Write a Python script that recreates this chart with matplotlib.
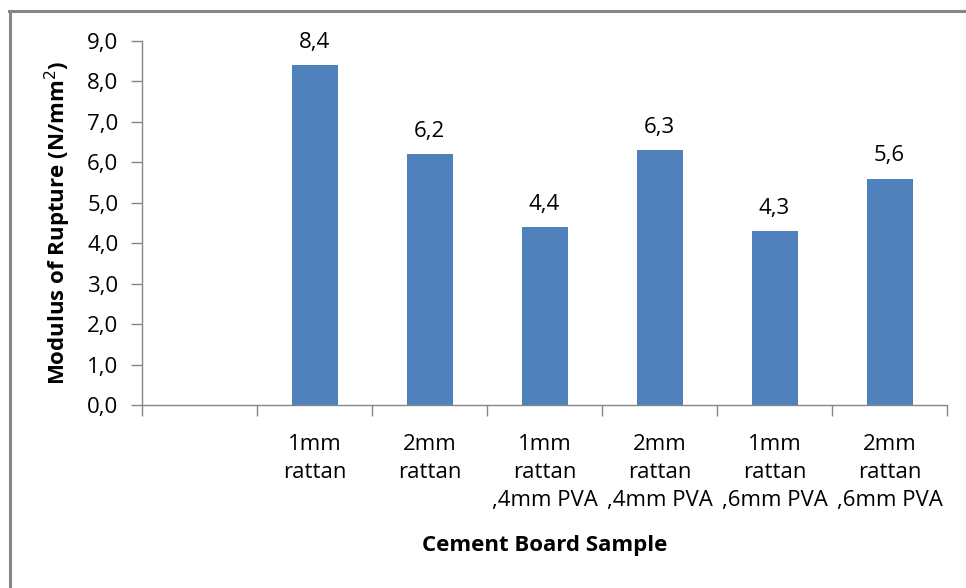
import matplotlib.pyplot as plt
from matplotlib.lines import Line2D
from matplotlib.ticker import FixedLocator, NullFormatter

samples = ["", "1mm\nrattan", "2mm\nrattan", "1mm\nrattan\n,4mm PVA",
           "2mm\nrattan\n,4mm PVA", "1mm\nrattan\n,6mm PVA", "2mm\nrattan\n,6mm PVA"]
mor = [None, 8.4, 6.2, 4.4, 6.3, 4.3, 5.6]
y_ticks = [0, 1, 2, 3, 4, 5, 6, 7, 8, 9]

plt.rcParams["font.family"] = ["Open Sans", "DejaVu Sans"]
axis_grey = "#868686"
bar_blue = "#4F81BD"
fs = 16


def comma(v):
    return f"{v:.1f}".replace(".", ",")


fig = plt.figure(figsize=(9.66, 5.88), dpi=100)
ax = fig.add_axes([142 / 966, 1 - 405 / 588, (947 - 142) / 966, (405 - 41) / 588])

xs = list(range(len(samples)))
for x, v in zip(xs, mor):
    if v is None:
        continue
    ax.bar(x, v, width=0.4, color=bar_blue, zorder=2)
    ax.annotate(comma(v), (x, v), xytext=(0, 9), textcoords="offset points",
                ha="center", va="bottom", fontsize=fs, color="black")

ax.set_xlim(-0.5, len(samples) - 0.5)
ax.set_ylim(0, 9)
ax.set_yticks(y_ticks)
ax.set_yticklabels([comma(t) for t in y_ticks], fontsize=fs)

ax.set_xticks(xs)
ax.set_xticklabels(samples, fontsize=fs, linespacing=1.43, va="top")
ax.tick_params(axis="x", which="major", length=0, pad=21)
ax.xaxis.set_minor_locator(FixedLocator([i - 0.5 for i in range(len(samples) + 1)]))
ax.xaxis.set_minor_formatter(NullFormatter())
ax.tick_params(axis="x", which="minor", length=8, width=1, color=axis_grey, direction="out")
ax.tick_params(axis="y", length=8, width=1, color=axis_grey, direction="out", pad=9)

for side in ("top", "right"):
    ax.spines[side].set_visible(False)
for side in ("left", "bottom"):
    ax.spines[side].set_color(axis_grey)
    ax.spines[side].set_linewidth(1)

ax.set_xlabel("Cement Board Sample", fontsize=fs, fontweight="bold", labelpad=17)
ax.set_ylabel("Modulus of Rupture (N/mm$^2$)", fontsize=fs, fontweight="bold", labelpad=10)

# chart frame, cut off at the right and bottom
fig.add_artist(Line2D([10 / 966, 10 / 966], [0, 1 - 11 / 588], transform=fig.transFigure,
                      color=axis_grey, linewidth=2.2))
fig.add_artist(Line2D([9 / 966, 1], [1 - 11 / 588, 1 - 11 / 588], transform=fig.transFigure,
                      color=axis_grey, linewidth=2.2))

fig.savefig("out.png", dpi=100)
